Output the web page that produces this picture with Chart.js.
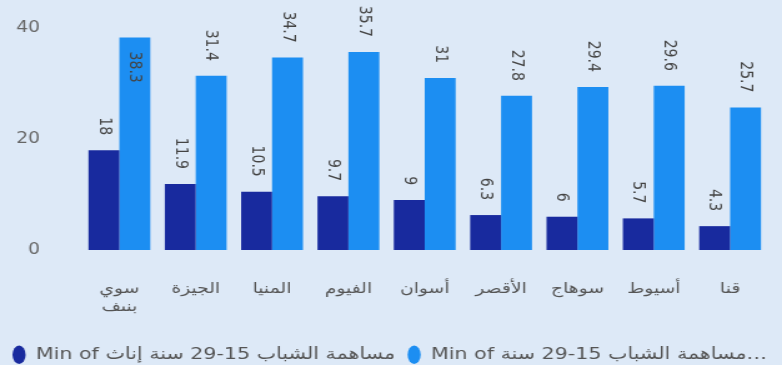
<!DOCTYPE html>
<html>
<head>
<meta charset="utf-8">
<script src="https://cdn.jsdelivr.net/npm/chart.js@4.4.1/dist/chart.umd.min.js"></script>
<style>
  html, body { margin: 0; padding: 0; background: #dde9f7; overflow: hidden; }
  /* chart is laid out narrower and widened, which gives the broad lettering */
  #wrap { width: 626px; height: 365px; transform: scaleX(1.2492); transform-origin: 0 0; }
</style>
</head>
<body>
<div id="wrap"><canvas id="myChart" width="626" height="365"></canvas></div>
<script>
// governorates, first one wraps onto two lines
const governorates = [['سوي', 'بنىف'], 'الجيزة', 'المنيا', 'الفيوم', 'أسوان', 'الأقصر', 'سوهاج', 'أسيوط', 'قنا'];
const femaleShare = [18, 11.9, 10.5, 9.7, 9, 6.3, 6, 5.7, 4.3];
const youthShare = [38.3, 31.4, 34.7, 35.7, 31, 27.8, 29.4, 29.6, 25.7];
const yTicks = [0, 20, 40];

const seriesNames = ['Min of مساهمة الشباب 15-29 سنة إناث', 'Min of مساهمة الشباب 15-29 سنة…'];

const FONT = '"DejaVu Sans", sans-serif';

// vertical value labels, above the bar or inside it when there's no room
const barLabels = {
  id: 'barLabels',
  afterDatasetsDraw(chart) {
    const ctx = chart.ctx;
    ctx.save();
    ctx.font = '14px ' + FONT;
    ctx.fillStyle = '#444';
    ctx.textBaseline = 'middle';
    chart.data.datasets.forEach(function(ds, i) {
      chart.getDatasetMeta(i).data.forEach(function(bar, j) {
        const txt = String(ds.data[j]);
        const w = ctx.measureText(txt).width;
        ctx.save();
        ctx.translate(bar.x, bar.y);
        ctx.rotate(Math.PI / 2);
        if (bar.y - 15 - w < 0) {
          ctx.textAlign = 'left';
          ctx.fillText(txt, 14, 0);
        } else {
          ctx.textAlign = 'right';
          ctx.fillText(txt, -15, 0);
        }
        ctx.restore();
      });
    });
    ctx.restore();
  }
};

const chart = new Chart(document.getElementById('myChart'), {
  type: 'bar',
  data: {
    labels: governorates,
    datasets: [
      { label: seriesNames[0], data: femaleShare, backgroundColor: '#182a9e' },
      { label: seriesNames[1], data: youthShare, backgroundColor: '#1c8ef2' }
    ]
  },
  options: {
    responsive: false,
    devicePixelRatio: 1,
    animation: false,
    categoryPercentage: 0.81,
    barPercentage: 1.0,
    layout: { padding: { left: 0, right: 0, top: 6, bottom: -8 } },
    scales: {
      x: {
        grid: { display: false, drawTicks: false },
        border: { display: false },
        afterFit: function(axis) { axis.height = 86.5; },
        ticks: { color: '#555', font: { family: FONT, size: 15 }, padding: 30, maxRotation: 0 }
      },
      y: {
        min: 0,
        max: 44,
        grid: { display: false, drawTicks: false },
        border: { display: false },
        afterBuildTicks: function(axis) { axis.ticks = yTicks.map(v => ({ value: v })); },
        afterFit: function(axis) {
          axis.width = 65;
          axis.paddingTop = 0;
          axis.paddingBottom = 0;
        },
        ticks: { color: '#666', font: { family: FONT, size: 15 }, padding: 33 }
      },
      // empty strip on the right so the legend can run wider than the plot
      edge: {
        position: 'right',
        grid: { display: false, drawTicks: false },
        border: { display: false },
        ticks: { display: false },
        afterFit: function(axis) {
          axis.width = 11;
          axis.paddingTop = 0;
          axis.paddingBottom = 0;
        }
      }
    },
    plugins: {
      tooltip: { enabled: false },
      legend: {
        position: 'bottom',
        align: 'start',
        labels: {
          usePointStyle: true,
          pointStyle: 'circle',
          boxHeight: 13,
          pointStyleWidth: 10.5,
          padding: 10,
          color: '#555',
          font: { family: FONT, size: 16.5 }
        }
      }
    }
  },
  plugins: [barLabels]
});
</script>
</body>
</html>
